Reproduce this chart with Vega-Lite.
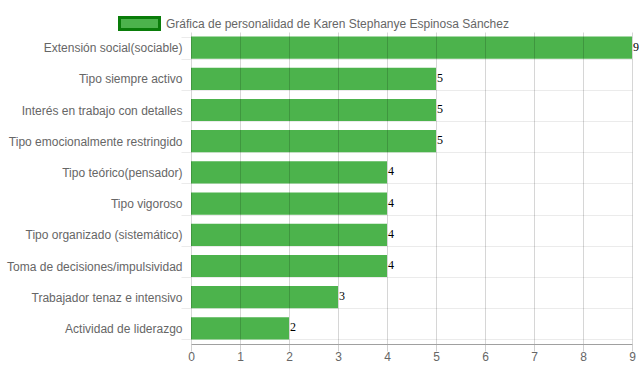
{
  "$schema": "https://vega.github.io/schema/vega-lite/v6.json",
  "autosize": "none",
  "width": 441,
  "height": 312,
  "padding": {"left": 191, "top": 32, "right": 7, "bottom": 28},
  "background": "white",
  "config": {"view": {"stroke": null}, "font": "Liberation Sans"},
  "data": {"values": [
    {"rasgo": "Extensión social(sociable)", "valor": 9, "serie": "Gráfica de personalidad de Karen Stephanye Espinosa Sánchez"},
    {"rasgo": "Tipo siempre activo", "valor": 5, "serie": "Gráfica de personalidad de Karen Stephanye Espinosa Sánchez"},
    {"rasgo": "Interés en trabajo con detalles", "valor": 5, "serie": "Gráfica de personalidad de Karen Stephanye Espinosa Sánchez"},
    {"rasgo": "Tipo emocionalmente restringido", "valor": 5, "serie": "Gráfica de personalidad de Karen Stephanye Espinosa Sánchez"},
    {"rasgo": "Tipo teórico(pensador)", "valor": 4, "serie": "Gráfica de personalidad de Karen Stephanye Espinosa Sánchez"},
    {"rasgo": "Tipo vigoroso", "valor": 4, "serie": "Gráfica de personalidad de Karen Stephanye Espinosa Sánchez"},
    {"rasgo": "Tipo organizado (sistemático)", "valor": 4, "serie": "Gráfica de personalidad de Karen Stephanye Espinosa Sánchez"},
    {"rasgo": "Toma de decisiones/impulsividad", "valor": 4, "serie": "Gráfica de personalidad de Karen Stephanye Espinosa Sánchez"},
    {"rasgo": "Trabajador tenaz e intensivo", "valor": 3, "serie": "Gráfica de personalidad de Karen Stephanye Espinosa Sánchez"},
    {"rasgo": "Actividad de liderazgo", "valor": 2, "serie": "Gráfica de personalidad de Karen Stephanye Espinosa Sánchez"}
  ]},
  "encoding": {
    "y": {
      "field": "rasgo", "type": "nominal", "sort": null, "title": null,
      "scale": {"paddingInner": 0.29, "paddingOuter": 0.145},
      "axis": {
        "domain": false, "grid": true, "tickBand": "extent",
        "gridColor": "#ebebeb", "tickColor": "#ebebeb", "tickSize": 10,
        "labelPadding": -1, "labelFontSize": 12, "labelColor": "#666666",
        "labelFont": "Liberation Sans", "labelLimit": 200
      }
    },
    "x": {
      "field": "valor", "type": "quantitative", "title": null,
      "scale": {"domain": [0, 9], "nice": false},
      "axis": {
        "values": [0, 1, 2, 3, 4, 5, 6, 7, 8, 9],
        "format": "d",
        "grid": true, "gridColor": "#000000", "gridOpacity": 0.16,
        "zindex": 1,
        "domainColor": "#a0a0a0", "tickColor": "#d0d0d0", "tickSize": 7,
        "labelPadding": 0, "labelFontSize": 12, "labelColor": "#666666",
        "labelFont": "Liberation Sans", "labelFlush": false
      }
    }
  },
  "layer": [
    {
      "mark": {"type": "bar", "color": "#4cb34c"},
      "encoding": {
        "color": {
          "field": "serie", "type": "nominal",
          "scale": {"range": ["#4cb34c"]},
          "legend": {
            "title": null, "orient": "none", "legendX": -73, "legendY": -30,
            "symbolType": "M-1,-0.3H1V0.3H-1Z", "symbolSize": 1600,
            "symbolStrokeColor": "#0a7d0a", "symbolStrokeWidth": 3,
            "symbolFillColor": "#4cb34c", "symbolOpacity": 1,
            "labelFontSize": 12, "labelColor": "#666666", "labelFont": "Liberation Sans",
            "labelLimit": 500, "labelOffset": 5
          }
        }
      }
    },
    {
      "mark": {"type": "text", "align": "left", "baseline": "alphabetic", "dx": 1, "dy": 3, "font": "Liberation Serif", "fontSize": 12, "color": "#000000"},
      "encoding": {"text": {"field": "valor", "type": "quantitative"}}
    }
  ]
}
